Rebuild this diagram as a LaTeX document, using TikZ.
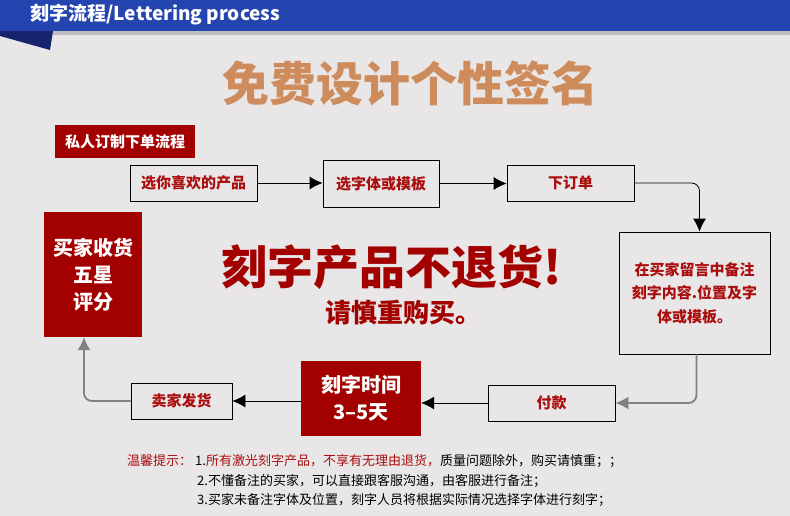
\documentclass[tikz,border=0pt]{standalone}
\usepackage{fontspec}
\setmainfont{Noto Sans CJK SC}
\usetikzlibrary{arrows.meta}
\usetikzlibrary{positioning,calc}
\definecolor{pagebg}{RGB}{232,230,231}
\definecolor{bannerblue}{RGB}{36,68,176}
\definecolor{bannerdark}{RGB}{22,36,110}
\definecolor{boxred}{RGB}{163,0,0}
\definecolor{textred}{RGB}{170,14,14}
\definecolor{titleorange}{RGB}{206,140,92}

\begin{document}
\begin{tikzpicture}[
x=1pt,y=-1pt,
FlowBox/.style={draw=black,thick,fill=pagebg,text=textred,font=\bfseries\fontsize{15}{17}\selectfont,inner sep=0pt,align=center},
RedBox/.style={fill=boxred,text=white,font=\bfseries\fontsize{20}{27}\selectfont,inner sep=0pt,align=center},
FlowArrow/.style={draw=black,thick,-{Latex[length=13pt,width=13pt]}},
BackArrow/.style={draw=black!50,line width=1.8pt,rounded corners=8pt,-{Latex[length=13pt,width=13pt]}}
]
\useasboundingbox (0,0) rectangle (790,516);
\fill[pagebg] (0,0) rectangle (790,516);

% banner
\fill[black!25] (0,31) rectangle (790,35);
\fill[bannerdark] (0,31) -- (53,31) -- (50,50) -- (0,36) -- cycle;
\fill[bannerblue] (0,0) rectangle (790,31);
\node[anchor=west,text=white,font=\bfseries\fontsize{19}{22}\selectfont] (banner) at (27,15) {刻字流程/Lettering process};

\node[text=titleorange,font=\bfseries\fontsize{47}{50}\selectfont] (title) at (410,83) {免费设计个性签名};

\node[RedBox,font=\bfseries\fontsize{15}{17}\selectfont,minimum width=140pt,minimum height=33pt] (tag) at (125,141.5) {私人订制下单流程};

% upper row
\node[FlowBox,minimum width=127pt,minimum height=36pt] (pick) at (193.5,183) {选你喜欢的产品};
\node[FlowBox,minimum width=116pt,minimum height=47pt] (font) at (381,183.5) {选字体或模板};
\node[FlowBox,minimum width=127pt,minimum height=36pt] (order) at (570.5,183) {下订单};
\node[FlowBox,font=\bfseries\fontsize{15}{23.5}\selectfont,minimum width=151pt,minimum height=122pt] (note) at (694.5,293) {在买家留言中备注\\刻字内容.位置及字\\体或模板。};

% lower row
\node[FlowBox,minimum width=127pt,minimum height=36pt] (pay) at (551.5,403) {付款};
\node[RedBox,minimum width=120pt,minimum height=75pt] (carve) at (361,398.5) {刻字时间\\3--5天};
\node[FlowBox,minimum width=101pt,minimum height=36pt] (ship) at (181.5,401) {卖家发货};
\node[RedBox,minimum width=98pt,minimum height=125pt] (rate) at (93,274.5) {买家收货\\五星\\评分};

\draw[FlowArrow] (pick.east) -- (pick.east -| font.west);
\draw[FlowArrow] (font.east) -- (font.east -| order.west);
\draw[FlowArrow,rounded corners=8pt] (order.east) -| ([xshift=5pt]note.north);
\draw[BackArrow] ([xshift=2pt]note.south) |- (pay.east);
\draw[FlowArrow] (pay.west) -- (pay.west -| carve.east);
\draw[FlowArrow] (carve.west |- ship.east) -- (ship.east);
\draw[BackArrow] (ship.west) -| ([xshift=-9pt]rate.south);

% warning
\node[text=boxred,font=\bfseries\fontsize{46}{50}\selectfont] (warn) at (392,267) {刻字产品不退货!};
\node[text=boxred,font=\bfseries\fontsize{26}{28}\selectfont] (careful) at (403,313) {请慎重购买。};

% notes
\node[anchor=west,text=textred,font=\fontsize{13}{15}\selectfont,inner sep=0pt] (tips) at (127,461) {温馨提示：};
\node[anchor=west,font=\fontsize{13}{15}\selectfont,inner sep=0pt] (tip1) at (195,461) {1.\textcolor{textred}{所有激光刻字产品，不享有无理由退货，}质量问题除外，购买请慎重；；};
\node[anchor=west,font=\fontsize{13}{15}\selectfont,inner sep=0pt] (tip2) at (197,481) {2.不懂备注的买家，可以直接跟客服沟通，由客服进行备注；};
\node[anchor=west,font=\fontsize{13}{15}\selectfont,inner sep=0pt] (tip3) at (197,500) {3.买家未备注字体及位置，刻字人员将根据实际情况选择字体进行刻字；};
\end{tikzpicture}
\end{document}
